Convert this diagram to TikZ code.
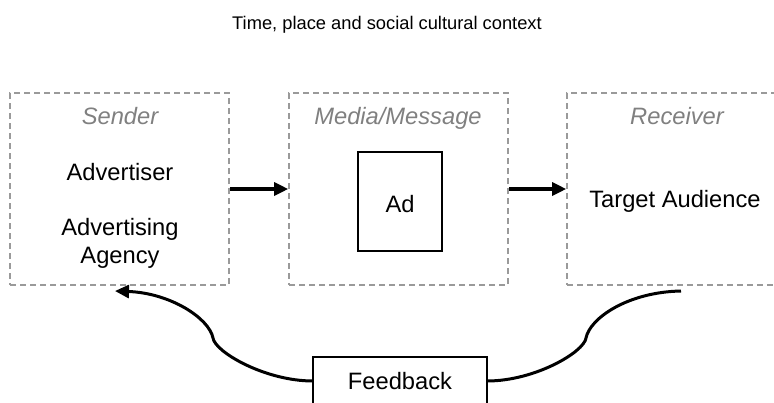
\documentclass[tikz,border=0pt]{standalone}
\usepackage{fontspec}
\setmainfont{Liberation Sans}
\usetikzlibrary{arrows.meta}
\definecolor{framegray}{HTML}{9A9A9A}
\definecolor{labelgray}{HTML}{808080}
\begin{document}
\begin{tikzpicture}[x=1pt,y=-1pt,
  group/.style={draw=framegray,line width=1.6pt,dash pattern=on 6pt off 4pt,
    minimum width=219pt,minimum height=192pt,inner sep=0pt},
  body/.style={font=\fontsize{23.7}{28}\selectfont,anchor=base,inner sep=0pt},
  role/.style={body,text=labelgray,font=\fontsize{23.7}{28}\selectfont\itshape},
  flow/.style={line width=3.2pt,-{Triangle[length=14pt,width=13pt]}},
  loop/.style={line width=3pt},
  plainbox/.style={draw,line width=1.4pt,inner sep=0pt}]
\useasboundingbox (0,0) rectangle (774,402);
\clip (0,0) rectangle (774,402);

% heading
\node[body,font=\fontsize{18.3}{22}\selectfont] (ctx) at (387,29) {Time, place and social cultural context};

% the three stages
\node[group] (sender) at (119.5,189) {};
\node[group] (media) at (398.5,189) {};
\node[group] (receiver) at (676.5,189) {};

\node[role] (sendlbl) at (120,124) {Sender};
\node[body] (advertiser) at (120,180) {Advertiser};
\node[body] (advertising) at (120,235) {Advertising};
\node[body] (agency) at (120,263) {Agency};

\node[role] (medialbl) at (398,124) {Media/Message};
\node[plainbox,minimum width=84pt,minimum height=99pt] (ad) at (400,201.5) {};
\node[body] (adtext) at (400,212) {Ad};

\node[role] (recvlbl) at (677,124) {Receiver};
\node[body] (audience) at (675,207) {Target Audience};

% forward flow
\draw[flow] (sender.east |- 0,189) -- (media.west |- 0,189);
\draw[flow] (media.east |- 0,189) -- (receiver.west |- 0,189);

% feedback loop
\node[plainbox,minimum width=174pt,minimum height=60pt] (feedback) at (400,387) {};
\node[body] (fbtext) at (400,389) {Feedback};
\coordinate (fbin) at (313,381);
\coordinate (fbout) at (487,381);
\coordinate (sendfoot) at (115,291);
\coordinate (recvfoot) at (681,291);
\coordinate (lbend) at (213,338);
\coordinate (rbend) at (586,338);
\draw[loop,-{Triangle[length=14pt,width=13pt]}] (fbin)
  .. controls (265,381) and (215,352) .. (lbend)
  .. controls (209,318) and (170,293) .. (sendfoot);
\draw[loop] (fbout)
  .. controls (535,381) and (584,352) .. (rbend)
  .. controls (590,318) and (628,292) .. (recvfoot);
\end{tikzpicture}
\end{document}
